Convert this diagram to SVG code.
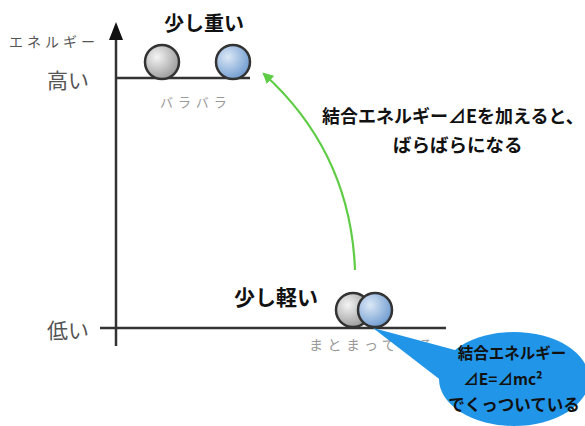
<svg xmlns="http://www.w3.org/2000/svg" width="585" height="426" viewBox="0 0 585 426">
<style>
.ax{stroke:#333;stroke-width:2.5;fill:none}
.lbl{font-family:"Liberation Serif","Noto Sans CJK JP",serif;fill:#555}
.sm{font-family:"Liberation Serif","Noto Sans CJK JP",serif;fill:#999}
.bold{font-family:"Noto Sans CJK JP","Noto Sans",sans-serif;font-weight:bold;fill:#111}
.ball{stroke:#333;stroke-width:2.5}
</style>
<defs>
<radialGradient id="grey" cx="0.35" cy="0.35" r="0.7"><stop offset="0" stop-color="#f4f4f4"/><stop offset="1" stop-color="#9a9a9a"/></radialGradient>
<radialGradient id="blue" cx="0.35" cy="0.35" r="0.7"><stop offset="0" stop-color="#dbe8f6"/><stop offset="1" stop-color="#6f9bd0"/></radialGradient>
<marker id="ga" viewBox="0 0 10 10" refX="8" refY="5" markerWidth="5" markerHeight="5" orient="auto"><path d="M0,0 L10,5 L0,10 Z" fill="#5fcc45"/></marker>
</defs>
<g id="axes">
<line class="ax" x1="116" y1="36" x2="116" y2="346"/>
<path d="M109,40 L116,22 L123,40 Z" fill="#111"/>
<line class="ax" x1="116" y1="78" x2="250" y2="78"/>
<line class="ax" x1="100" y1="328" x2="446" y2="328"/>
<text class="lbl" x="9" y="47" font-size="14" fill="#777" letter-spacing="4">エネルギー</text>
<text class="lbl" x="47" y="88" font-size="21">高い</text>
<text class="lbl" x="47" y="338" font-size="21">低い</text>
</g>
<g id="top-balls">
<circle class="ball" cx="162" cy="62" r="17" fill="url(#grey)"/>
<circle class="ball" cx="233" cy="62" r="17" fill="url(#blue)"/>
<text class="bold" x="164" y="31" font-size="20">少し重い</text>
<text class="sm" x="160" y="107" font-size="13" letter-spacing="5">バラバラ</text>
</g>
<g id="bottom-balls">
<circle class="ball" cx="353" cy="310" r="17" fill="url(#grey)"/>
<circle class="ball" cx="375" cy="310" r="17" fill="url(#blue)"/>
<text class="bold" x="234" y="305" font-size="21">少し軽い</text>
<text class="sm" x="309" y="350" font-size="14" letter-spacing="4.5">まとまっている</text>
</g>
<g id="connectors">
<path d="M355,270 C352,190 320,125 264,74" fill="none" stroke="#5fcc45" stroke-width="2.2" marker-end="url(#ga)"/>
</g>
<g id="label">
<text class="bold" x="322" y="123" font-size="18">結合エネルギー⊿Eを加えると、</text>
<text class="bold" x="393" y="152" font-size="18.5">ばらばらになる</text>
</g>
<g id="callout">
<path d="M373,328 L455,350 L460,395 Z" fill="#2196e8"/>
<ellipse cx="514" cy="379" rx="75" ry="47" fill="#2196e8"/>
<text class="bold" x="512" y="359" font-size="15.5" text-anchor="middle">結合エネルギー</text>
<text class="bold" x="503" y="385" font-size="15.5" text-anchor="middle">⊿E=⊿mc²</text>
<text class="bold" x="514" y="411" font-size="16.5" text-anchor="middle">でくっついている</text>
</g>
</svg>
